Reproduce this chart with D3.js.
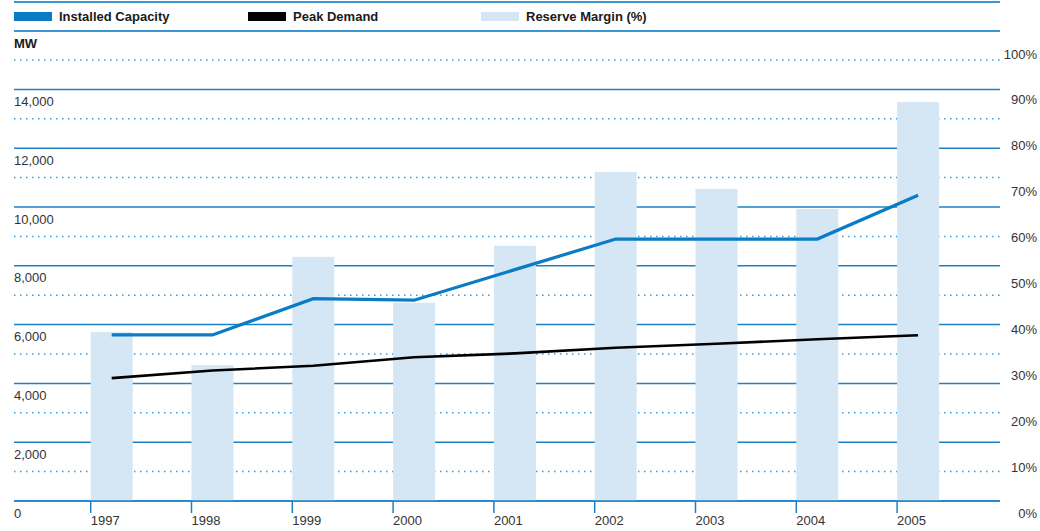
<!DOCTYPE html>
<html lang="en">
<head>
  <meta charset="UTF-8">
  <title>Installed Capacity vs Peak Demand</title>
  <style>
    body { margin: 0; background: #fff; }
    svg { display: block; }
    text {
      font-family: "Liberation Sans", Arial, Helvetica, sans-serif;
      fill: #333;
    }
    .legend-label, .unit { font-weight: bold; font-size: 13px; fill: #1a1a1a; }
    .axis text { font-size: 13px; }
    .axis path { display: none; }
    .grid-solid { stroke: #1c82c8; stroke-width: 1.5px; }
    .grid-dot { stroke: #3b9ad9; stroke-width: 1.5px; stroke-dasharray: 1.5, 4.5; }
    .rule { stroke: #3a95d2; stroke-width: 2px; }
    .bar { fill: #d5e6f4; }
    .capacity { fill: none; stroke: #0a7bc5; stroke-width: 3.2px; }
    .demand { fill: none; stroke: #000; stroke-width: 2.6px; }
  </style>
</head>
<body>
  <svg width="1040" height="531"></svg>

  <script src="https://d3js.org/d3.v7.min.js"></script>
  <script>
    var years = ["1997", "1998", "1999", "2000", "2001", "2002", "2003", "2004", "2005"];
    var capacity = [5650, 5650, 6880, 6830, 7870, 8910, 8910, 8910, 10400];
    var demand = [4180, 4440, 4600, 4890, 5020, 5210, 5350, 5500, 5640];
    var reserve = [36.8, 29.6, 53.2, 43.2, 55.6, 71.7, 68.0, 63.6, 86.9];
    var mwTicks = [0, 2000, 4000, 6000, 8000, 10000, 12000, 14000];
    var dotTicks = [1000, 3000, 5000, 7000, 9000, 11000, 13000, 15000];
    var pctTicks = [0, 10, 20, 30, 40, 50, 60, 70, 80, 90, 100];
    var legendItems = ["Installed Capacity", "Peak Demand", "Reserve Margin (%)"];

    var svg = d3.select("svg");
    var left = 14, right = 1000;

    var x = d3.scaleBand().domain(years).range([90.7, 90.7 + 9 * 100.8]).padding(0);
    var y = d3.scaleLinear().domain([0, 15000]).range([501, 60]);
    var yPct = d3.scaleLinear().domain([0, 100]).range([501, 42]);
    var barW = 42;

    // header rules + legend
    svg.append("line").attr("class", "rule")
        .attr("x1", left).attr("x2", right).attr("y1", 2).attr("y2", 2);
    svg.append("line").attr("class", "rule")
        .attr("x1", left).attr("x2", right).attr("y1", 31).attr("y2", 31);

    var legendX = [14, 248, 481];
    var legendFill = ["#0a7bc5", "#000", "#d5e6f4"];
    var lg = svg.append("g").selectAll("g")
        .data(legendItems)
        .enter().append("g")
        .attr("transform", function(d, i) { return "translate(" + legendX[i] + ",0)"; });
    lg.append("rect").attr("x", 0).attr("y", 12).attr("width", 38).attr("height", 9)
        .attr("fill", function(d, i) { return legendFill[i]; });
    lg.append("text").attr("class", "legend-label").attr("x", 45).attr("y", 21)
        .text(function(d) { return d; });

    svg.append("text").attr("class", "unit").attr("x", left).attr("y", 48).text("MW");

    // grid first so the bars sit on top of it
    var gridG = svg.append("g");
    gridG.selectAll("line.grid-dot")
        .data(dotTicks)
        .enter().append("line")
        .attr("class", "grid-dot")
        .attr("x1", left).attr("x2", right)
        .attr("y1", function(d) { return y(d); }).attr("y2", function(d) { return y(d); });
    gridG.selectAll("line.grid-solid")
        .data(mwTicks)
        .enter().append("line")
        .attr("class", "grid-solid")
        .attr("x1", left).attr("x2", right)
        .attr("y1", function(d) { return y(d); }).attr("y2", function(d) { return y(d); });

    svg.append("g").selectAll("rect")
        .data(reserve)
        .enter().append("rect")
        .attr("class", "bar")
        .attr("x", function(d, i) { return x(years[i]); })
        .attr("y", function(d) { return yPct(d); })
        .attr("width", barW)
        .attr("height", function(d) { return yPct(0) - yPct(d); });

    // baseline over the bars
    svg.append("line").attr("class", "grid-solid")
        .attr("x1", left).attr("x2", right).attr("y1", y(0)).attr("y2", y(0));

    // axes
    var yAxis = svg.append("g").attr("class", "axis")
        .attr("transform", "translate(" + left + ",0)")
        .call(d3.axisRight(y).tickValues(mwTicks).tickSize(0).tickFormat(d3.format(",")));
    yAxis.selectAll("text").attr("x", 0).attr("dy", 16);

    var pAxis = svg.append("g").attr("class", "axis")
        .attr("transform", "translate(1037,0)")
        .call(d3.axisLeft(yPct).tickValues(pctTicks).tickSize(0).tickFormat(function(d) { return d + "%"; }));
    pAxis.selectAll("text").attr("x", 0).attr("dy", 16);

    var xAxis = svg.append("g").attr("class", "axis")
        .attr("transform", "translate(0," + y(0) + ")")
        .call(d3.axisBottom(x).tickSize(12).tickPadding(4));
    xAxis.selectAll(".tick").attr("transform", function(d) { return "translate(" + x(d) + ",0)"; });
    xAxis.selectAll(".tick line").attr("stroke", "#1c82c8").attr("stroke-width", 1.5);
    xAxis.selectAll(".tick text").attr("text-anchor", "start").attr("x", 0).attr("y", 15).attr("dy", "0.71em");

    // lines
    var cx = function(d, i) { return x(years[i]) + barW / 2; };
    svg.append("path").datum(demand).attr("class", "demand")
        .attr("d", d3.line().x(cx).y(function(d) { return y(d); }));
    svg.append("path").datum(capacity).attr("class", "capacity")
        .attr("d", d3.line().x(cx).y(function(d) { return y(d); }));
  </script>
</body>
</html>
